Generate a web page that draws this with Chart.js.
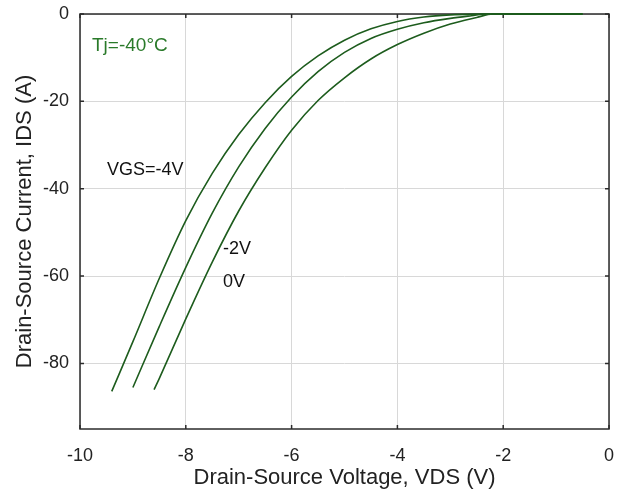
<!DOCTYPE html>
<html>
<head>
<meta charset="utf-8">
<script src="https://cdn.jsdelivr.net/npm/chart.js@4/dist/chart.umd.min.js"></script>
<style>
  html, body { margin: 0; padding: 0; background: #fff; }
  canvas { display: block; }
</style>
</head>
<body>
<canvas id="myChart" width="624" height="492"></canvas>
<script>
// curve data (VDS in V, IDS in A)
const vdsVgsM4 = [-9.40, -9.00, -8.50, -8.00, -7.50, -7.00, -6.50, -6.00, -5.50, -5.00, -4.50, -4.00, -3.50, -3.00, -2.50, -2.25, -0.50];
const idsVgsM4 = [-86.4, -75.0, -60.5, -47.3, -36.5, -27.6, -20.3, -14.3, -9.6, -6.0, -3.4, -1.7, -0.7, -0.2, -0.02, 0, 0];

const vdsVgsM2 = [-9.00, -8.50, -8.00, -7.50, -7.00, -6.50, -6.00, -5.50, -5.00, -4.50, -4.00, -3.50, -3.00, -2.60, -2.30, -0.50];
const idsVgsM2 = [-85.5, -71.5, -58.0, -45.6, -35.0, -26.2, -19.0, -13.2, -8.8, -5.6, -3.5, -2.0, -1.0, -0.4, 0, 0];

const vdsVgs0 = [-8.60, -8.50, -8.00, -7.50, -7.00, -6.50, -6.00, -5.50, -5.00, -4.50, -4.00, -3.50, -3.00, -2.50, -2.20, -0.50];
const idsVgs0 = [-86.0, -83.4, -69.8, -56.8, -45.1, -35.2, -26.6, -19.8, -14.6, -10.3, -7.0, -4.4, -2.3, -0.8, 0, 0];

const xTicks = [-10, -8, -6, -4, -2, 0];
const yTicks = [0, -20, -40, -60, -80];

const curveColor = "#1d5c1d";
const frameColor = "#2b2b2b";
const gridColor = "#d8d8d8";
const fontName = "'Liberation Sans', Arial, sans-serif";

function toPoints(xs, ys) {
  return xs.map((x, i) => ({ x: x, y: ys[i] }));
}

function curve(label, xs, ys) {
  return {
    label: label,
    data: toPoints(xs, ys),
    borderColor: curveColor,
    borderWidth: 1.6,
    pointRadius: 0,
    fill: false,
    cubicInterpolationMode: "monotone",
    clip: 4,
  };
}

// frame on all four sides plus small inward tick marks
const framePlugin = {
  id: "frame",
  beforeDatasetsDraw(chart) {
    const { ctx, chartArea: a, scales } = chart;
    ctx.save();
    ctx.strokeStyle = frameColor;
    ctx.lineWidth = 1.5;
    ctx.strokeRect(a.left, a.top, a.right - a.left, a.bottom - a.top);
    ctx.beginPath();
    xTicks.forEach((v) => {
      const px = scales.x.getPixelForValue(v);
      ctx.moveTo(px, a.top); ctx.lineTo(px, a.top + 4);
      ctx.moveTo(px, a.bottom); ctx.lineTo(px, a.bottom - 4);
    });
    yTicks.forEach((v) => {
      const py = scales.y.getPixelForValue(v);
      ctx.moveTo(a.left, py); ctx.lineTo(a.left + 4, py);
      ctx.moveTo(a.right, py); ctx.lineTo(a.right - 4, py);
    });
    ctx.stroke();
    ctx.restore();
  },
  afterDraw(chart) {
    const { ctx, chartArea: a } = chart;
    ctx.save();
    // axis titles
    ctx.fillStyle = "#222";
    ctx.font = "22px " + fontName;
    ctx.textAlign = "center";
    ctx.textBaseline = "alphabetic";
    ctx.fillText("Drain-Source Voltage, VDS (V)", (a.left + a.right) / 2, 484);
    ctx.save();
    ctx.translate(31, (a.top + a.bottom) / 2);
    ctx.rotate(-Math.PI / 2);
    ctx.fillText("Drain-Source Current, IDS (A)", 0, 0);
    ctx.restore();

    // curve labels
    ctx.textAlign = "left";
    ctx.font = "19px " + fontName;
    ctx.fillStyle = "#2a7a2a";
    ctx.fillText("Tj=-40°C", 92, 51);
    ctx.fillStyle = "#111";
    ctx.font = "18px " + fontName;
    ctx.fillText("VGS=-4V", 107, 175);
    ctx.fillText("-2V", 223, 254);
    ctx.fillText("0V", 223, 287);
    ctx.restore();
  },
};

const ctx = document.getElementById("myChart").getContext("2d");

new Chart(ctx, {
  type: "line",
  data: {
    datasets: [
      curve("VGS=-4V", vdsVgsM4, idsVgsM4),
      curve("-2V", vdsVgsM2, idsVgsM2),
      curve("0V", vdsVgs0, idsVgs0),
    ],
  },
  options: {
    responsive: false,
    animation: false,
    layout: { padding: { top: 14, right: 15, left: 0, bottom: 0 } },
    plugins: {
      legend: { display: false },
      tooltip: { enabled: false },
    },
    scales: {
      x: {
        type: "linear",
        min: -10,
        max: 0,
        afterBuildTicks: (scale) => {
          scale.ticks = xTicks.map((v) => ({ value: v }));
        },
        afterFit: (scale) => {
          scale.height = 63;
          scale.paddingLeft = 0;
          scale.paddingRight = 0;
        },
        grid: { color: gridColor, drawTicks: false },
        border: { display: false },
        ticks: {
          padding: 16,
          color: "#222",
          font: { family: fontName, size: 18 },
        },
      },
      y: {
        type: "linear",
        min: -95,
        max: 0,
        afterBuildTicks: (scale) => {
          scale.ticks = yTicks.map((v) => ({ value: v }));
        },
        afterFit: (scale) => {
          scale.width = 80;
          scale.paddingTop = 0;
          scale.paddingBottom = 0;
        },
        grid: { color: gridColor, drawTicks: false },
        border: { display: false },
        ticks: {
          padding: 11,
          color: "#222",
          font: { family: fontName, size: 18 },
        },
      },
    },
  },
  plugins: [framePlugin],
});
</script>
</body>
</html>
